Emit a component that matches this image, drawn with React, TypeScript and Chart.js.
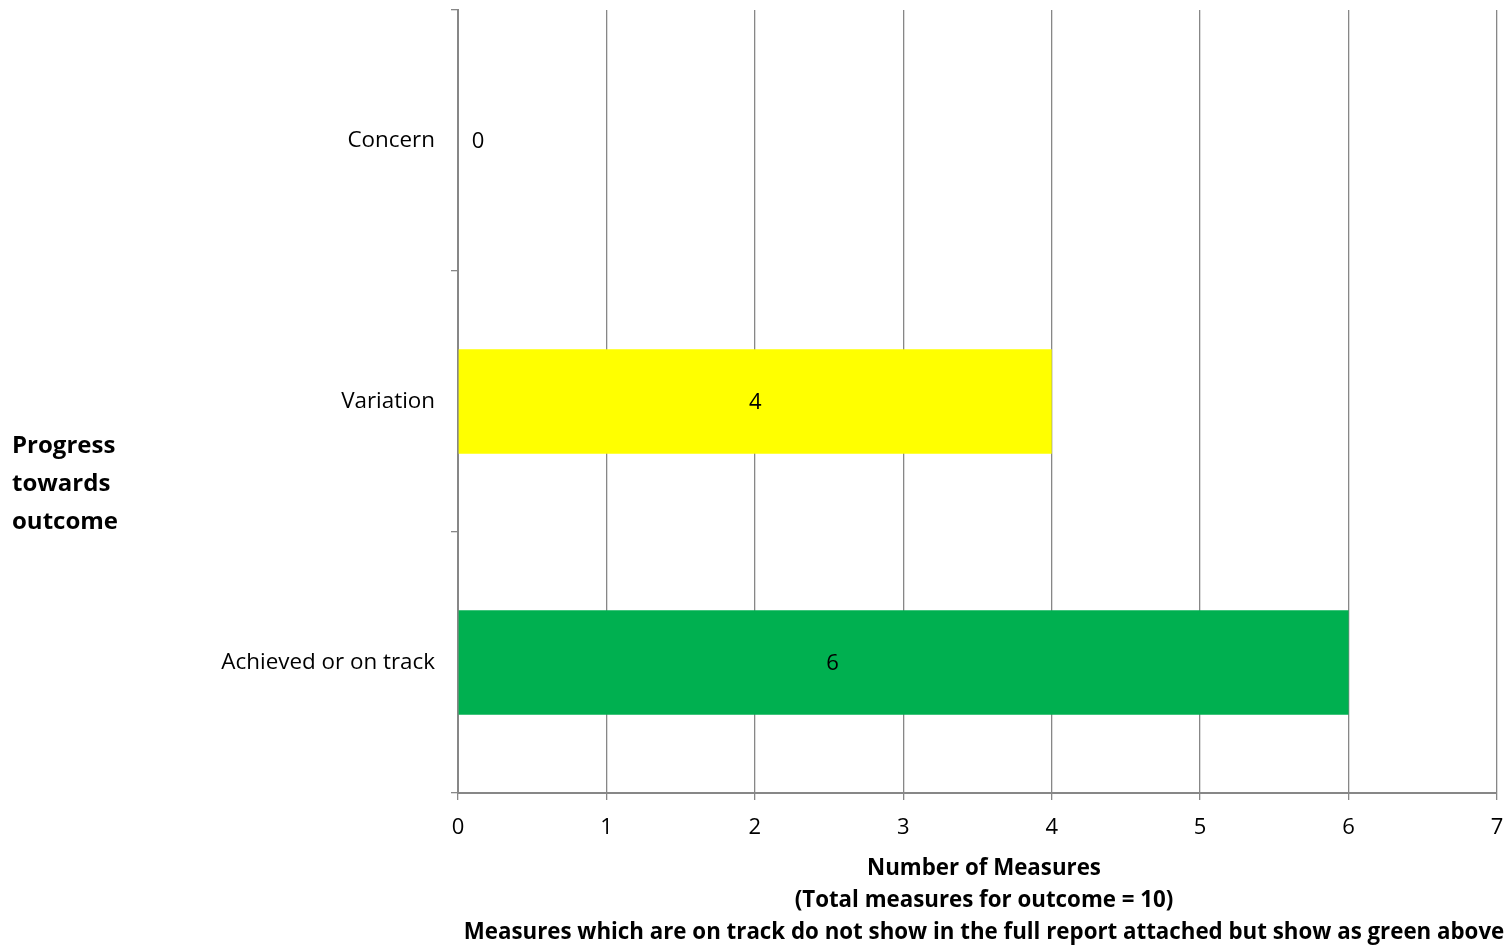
import React, { useEffect, useRef } from "react";
import { Chart, registerables } from "chart.js";

Chart.register(...registerables);

// Progress categories, top to bottom
const categories: string[] = ["Concern", "Variation", "Achieved or on track"];
// Number of measures in each category
const measureCounts: number[] = [0, 4, 6];
// Bar fill per category
const barColors: string[] = ["#C00000", "#FFFF00", "#00B050"];

const xTicksMin = 0;
const xTicksMax = 7;

const yTitleLines: string[] = ["Progress", "towards", "outcome"];
const xTitleLines: string[] = [
  "Number of Measures",
  "(Total measures for outcome = 10)",
  "Measures which are on track do not show in the full report attached but show as green above",
];

const FONT = "'Open Sans', Lato, sans-serif";
const AXIS_GREY = "#878787";

// Value labels drawn inside / beside each bar
const valueLabels = {
  id: "valueLabels",
  afterDatasetsDraw(chart: any) {
    const { ctx } = chart;
    const meta = chart.getDatasetMeta(0);
    const data = chart.data.datasets[0].data as number[];
    const anchors = [0.5, 0.5, 0.42];
    ctx.save();
    ctx.font = `22px ${FONT}`;
    ctx.fillStyle = "#000";
    ctx.textAlign = "center";
    ctx.textBaseline = "middle";
    meta.data.forEach((bar: any, i: number) => {
      const v = data[i];
      const base = bar.base;
      const x = v === 0 ? base + 20 : base + (bar.x - base) * anchors[i];
      ctx.fillText(String(v), x, bar.y + 1);
    });
    ctx.restore();
  },
};

// Horizontal axis titles on both sides
const axisTitles = {
  id: "axisTitles",
  afterDraw(chart: any) {
    const { ctx } = chart;
    ctx.save();
    ctx.fillStyle = "#000";
    ctx.textBaseline = "middle";
    ctx.font = `bold 24px ${FONT}`;
    ctx.textAlign = "left";
    yTitleLines.forEach((t, i) => ctx.fillText(t, 12, 446 + i * 38));
    ctx.font = `bold 22.3px ${FONT}`;
    ctx.textAlign = "center";
    xTitleLines.forEach((t, i) => ctx.fillText(t, 984, 869 + i * 32));
    ctx.restore();
  },
};

export default function App() {
  const canvasRef = useRef<HTMLCanvasElement | null>(null);

  useEffect(() => {
    if (!canvasRef.current) return;
    const chart = new Chart(canvasRef.current, {
      type: "bar",
      data: {
        labels: categories,
        datasets: [
          {
            data: measureCounts,
            backgroundColor: barColors,
            borderWidth: 0,
            categoryPercentage: 1,
            barPercentage: 0.4,
          },
        ],
      },
      plugins: [valueLabels, axisTitles],
      options: {
        indexAxis: "y",
        responsive: false,
        animation: false,
        layout: { padding: { top: 10, right: 14, bottom: 0, left: 0 } },
        plugins: {
          legend: { display: false },
          tooltip: { enabled: false },
          title: { display: false },
        },
        scales: {
          x: {
            type: "linear",
            min: xTicksMin,
            max: xTicksMax,
            ticks: {
              stepSize: 1,
              color: "#000",
              font: { family: FONT, size: 22 },
              padding: 15,
            },
            grid: {
              color: AXIS_GREY,
              lineWidth: 1.3,
              drawTicks: true,
              tickLength: 7,
            },
            border: { display: true, color: AXIS_GREY, width: 2 },
            afterFit(scale: any) {
              scale.height = 152;
              scale.paddingLeft = 0;
              scale.paddingRight = 0;
            },
          },
          y: {
            type: "category",
            offset: true,
            ticks: {
              color: "#000",
              font: { family: FONT, size: 22.4 },
              padding: 16,
            },
            grid: {
              offset: true,
              drawOnChartArea: false,
              drawTicks: true,
              tickLength: 7,
              color: AXIS_GREY,
              lineWidth: 1.3,
            },
            border: { display: true, color: AXIS_GREY, width: 2 },
            afterFit(scale: any) {
              scale.width = 458;
              scale.paddingTop = 0;
              scale.paddingBottom = 0;
            },
          },
        },
      },
    });
    return () => chart.destroy();
  }, []);

  return (
    <div style={{ position: "fixed", left: 0, top: 0, width: 1511, height: 945, background: "#fff" }}>
      <canvas ref={canvasRef} width={1511} height={945} />
    </div>
  );
}
